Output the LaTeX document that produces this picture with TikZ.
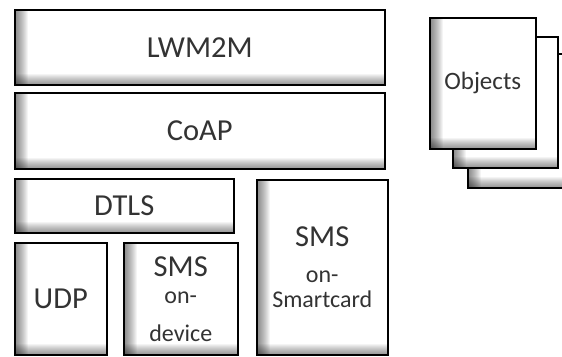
\documentclass[tikz,border=0pt]{standalone}
\usepackage{fontspec}
\setmainfont{Carlito}
\usetikzlibrary{positioning}

\tikzset{
  layer/.style={draw=black, line width=1.5pt, fill=white, inner sep=0pt,
    anchor=north west, text=black!80, align=center,
    font=\fontsize{30.5}{32}\selectfont,
    path picture={
      \foreach \i in {1,...,13}
        \fill[black, opacity=0.042] (path picture bounding box.south west) rectangle
          ([xshift=\i pt]path picture bounding box.north west);
      \foreach \i in {1,...,11}
        \fill[black, opacity=0.042] (path picture bounding box.south west) rectangle
          ([yshift=\i pt]path picture bounding box.south east);
    }},
  smalltext/.style={font=\fontsize{24}{25}\selectfont}
}

\begin{document}
\begin{tikzpicture}[x=1pt, y=-1pt]

    \useasboundingbox (0,0) rectangle (562,356);

    % PROTOCOL STACK
    \node[layer, minimum width=370pt, minimum height=75pt] (lwm) at (14,9) {LWM2M};
    \node[layer, minimum width=370pt, minimum height=76pt] (coap) at (14,92) {CoAP};
    \node[layer, minimum width=219pt, minimum height=54pt] (dtls) at (14,178) {DTLS};
    \node[layer, minimum width=92pt, minimum height=112pt] (udp) at (14,242) {UDP};
    \node[layer, smalltext, minimum width=114pt, minimum height=112pt] (smsdev) at (123,242)
        {{\fontsize{30.5}{32}\selectfont SMS}\\[2pt]on-\\[13pt]device};
    \node[layer, smalltext, minimum width=131pt, minimum height=175pt] (smscard) at (256,179)
        {{\fontsize{30.5}{32}\selectfont SMS}\\[11pt]on-\\Smartcard};

    % OBJECT PAGES
    \node[layer, minimum width=120pt, minimum height=134pt] (page3) at (467,53) {};
    \node[layer, minimum width=105pt, minimum height=131pt] (page2) at (452,36) {};
    \node[layer, font=\fontsize{25}{26}\selectfont, minimum width=106pt, minimum height=131pt]
        (page1) at (429,17) {Objects};

\end{tikzpicture}
\end{document}
